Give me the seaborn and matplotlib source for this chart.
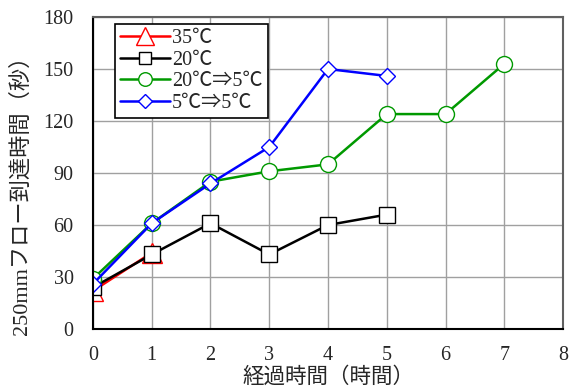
import numpy as np
import pandas as pd
import matplotlib
matplotlib.use("Agg")
import matplotlib.pyplot as plt
from matplotlib.ticker import MultipleLocator
import seaborn as sns

# Data
x_35 = [0, 1]
y_35 = [22, 44]
x_20 = [0, 1, 2, 3, 4, 5]
y_20 = [24, 43, 61, 43, 60, 66]
x_20_5 = [0, 1, 2, 3, 4, 5, 6, 7]
y_20_5 = [29, 61, 85, 91, 95, 124, 124, 153]
x_5_5 = [0, 1, 2, 3, 4, 5]
y_5_5 = [26, 61, 84, 105, 150, 146]
labels = ["35℃", "20℃", "20℃⇒5℃", "5℃⇒5℃"]
x_ticks = [0, 1, 2, 3, 4, 5, 6, 7, 8]
y_ticks = [0, 30, 60, 90, 120, 150, 180]

sns.set_style("white")
fam = ["Liberation Serif", "Noto Sans CJK JP", "DejaVu Sans"]
plt.rcParams["font.family"] = fam
plt.rcParams["axes.unicode_minus"] = False

fig = plt.figure(figsize=(5.79, 3.92), dpi=100)
ax = fig.add_axes([0.1606, 0.1607, 0.8118, 0.7959])

series = [
    (x_35, y_35, "#ff0000", "^", 15),
    (x_20, y_20, "#000000", "s", 11),
    (x_20_5, y_20_5, "#009900", "o", 11.5),
    (x_5_5, y_5_5, "#0000ff", "D", 8),
]
for (xs, ys, c, m, ms), lab in zip(series, labels):
    df = pd.DataFrame({"x": xs, "y": ys})
    sns.lineplot(data=df, x="x", y="y", ax=ax, color=c, marker=m,
                 markersize=ms, markerfacecolor="white", markeredgecolor=c,
                 markeredgewidth=1.0, linewidth=1.8, label=lab)

ax.set_xlim(0, 8)
ax.set_ylim(0, 180)
ax.set_xticks(x_ticks)
ax.set_yticks(y_ticks)
ax.xaxis.set_minor_locator(MultipleLocator(0.25))
ax.yaxis.set_minor_locator(MultipleLocator(6))
ax.tick_params(which="both", direction="in", top=False, right=False,
               labelsize=14.5, color="black")
ax.tick_params(axis="x", pad=12)
ax.tick_params(axis="y", pad=14)
ax.tick_params(which="major", length=5, width=1)
ax.tick_params(which="minor", length=3, width=1)
ax.grid(True, which="major", color="#a0a0a0", linewidth=1.0)
ax.set_axisbelow(True)

for s in ["left", "bottom"]:
    ax.spines[s].set_color("black")
    ax.spines[s].set_linewidth(1.5)
for s in ["top", "right"]:
    ax.spines[s].set_color("#606060")
    ax.spines[s].set_linewidth(1.5)

ax.set_xlabel("経過時間（時間）", fontsize=15.5)
ax.set_ylabel("250mmフロー到達時間（秒）", fontsize=16)
ax.xaxis.set_label_coords(0.5, -0.122)
ax.yaxis.set_label_coords(-0.13, 0.445)

leg = ax.legend(loc="upper left", bbox_to_anchor=(0.025, 1.01), fontsize=14.5,
                frameon=True, fancybox=False, edgecolor="black",
                framealpha=1, handlelength=2.5, borderpad=0.25,
                labelspacing=0.12, handletextpad=0.1, markerscale=0.85)
leg.get_frame().set_linewidth(1.2)

fig.savefig("out.png", dpi=100)
